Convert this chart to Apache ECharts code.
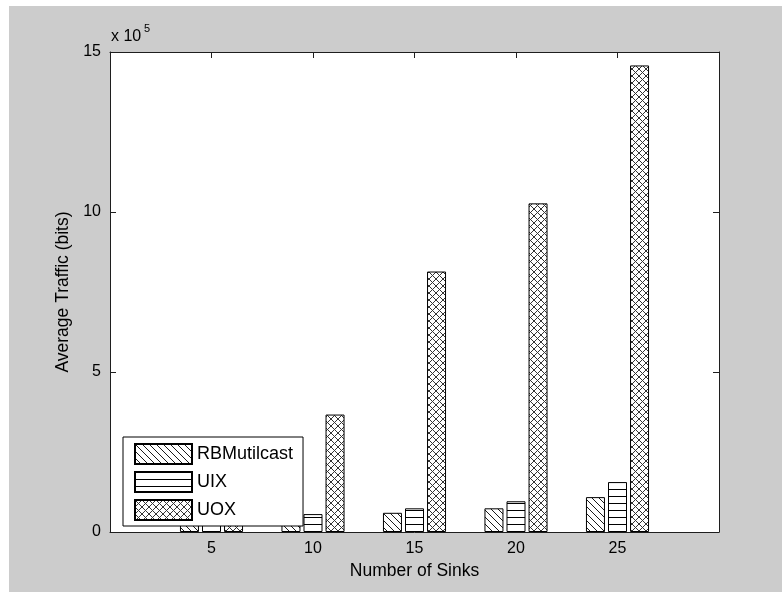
<!DOCTYPE html>
<html>
<head>
<meta charset="utf-8">
<script src="https://cdn.jsdelivr.net/npm/echarts@6/dist/echarts.min.js"></script>
<style>
  html, body { margin: 0; padding: 0; background: #ffffff; }
  #chart { position: absolute; left: 9px; top: 6px; width: 773px; height: 586px; background: #cccccc; }
</style>
</head>
<body>
<div id="chart"></div>
<script>
// Number of sinks on the x axis
const sinks = [5, 10, 15, 20, 25];
// Average traffic, in units of 1e5 bits
const rbMulticast = [0.36, 0.44, 0.60, 0.74, 1.09];
const uix = [0.40, 0.56, 0.74, 0.96, 1.56];
const uox = [1.20, 3.67, 8.14, 10.27, 14.58];
const seriesNames = ['RBMutilcast', 'UIX', 'UOX'];
const yTicks = [0, 5, 10, 15];
const xTicks = [5, 10, 15, 20, 25];

const FONT = '"Liberation Sans", Arial, Helvetica, sans-serif';

// Small tiles used as repeating hatch fills
function makeTile(w, h, pixels, ink) {
  const c = document.createElement('canvas');
  c.width = w; c.height = h;
  const g = c.getContext('2d');
  g.fillStyle = '#ffffff';
  g.fillRect(0, 0, w, h);
  g.fillStyle = ink;
  pixels.forEach(([x, y]) => g.fillRect(x, y, 1, 1));
  return c;
}
function diagonalTile(p) {
  const px = [];
  for (let i = 0; i < p; i++) px.push([i, i]);
  return makeTile(p, p, px, '#1a1a1a');
}
function horizontalTile(p) {
  const px = [];
  for (let i = 0; i < p; i++) px.push([i, 0]);
  return makeTile(p, p, px, '#000000');
}
function crossTile(p) {
  const px = [];
  for (let i = 0; i < p; i++) { px.push([i, i]); px.push([p - 1 - i, i]); }
  return makeTile(p, p, px, '#333333');
}
const fills = [
  { image: diagonalTile(7), repeat: 'repeat' },
  { image: horizontalTile(7), repeat: 'repeat' },
  { image: crossTile(7), repeat: 'repeat' }
];

const values = [rbMulticast, uix, uox];
const series = values.map((vals, k) => ({
  name: seriesNames[k],
  type: 'bar',
  xAxisIndex: 0,
  yAxisIndex: 0,
  barWidth: 19,
  barGap: '16%',
  data: sinks.map((s, i) => [s, vals[i]]),
  itemStyle: { color: fills[k], borderColor: '#000000', borderWidth: 1 },
  emphasis: { disabled: true },
  silent: true
}));

const axisLineStyle = { color: '#1e1e1e', width: 1 };
const frameLine = { show: true, onZero: false, lineStyle: axisLineStyle };
const innerTick = { show: true, inside: true, length: 6, lineStyle: axisLineStyle };

const chart = echarts.init(document.getElementById('chart'), null, { renderer: 'canvas' });
chart.setOption({
  animation: false,
  backgroundColor: '#cccccc',
  textStyle: { fontFamily: FONT, color: '#000000' },
  grid: {
    left: 101, top: 46, right: 63, bottom: 60,
    show: true, backgroundColor: '#ffffff', borderWidth: 0,
    outerBoundsMode: 'none'
  },
  legend: {
    orient: 'vertical',
    left: 114, top: 431,
    padding: [6, 10, 5, 11],
    itemWidth: 57, itemHeight: 20, itemGap: 6,
    icon: 'rect',
    backgroundColor: '#ffffff',
    borderColor: '#000000', borderWidth: 1,
    textStyle: { fontFamily: FONT, fontSize: 18, color: '#000000' },
    selectedMode: false,
    data: seriesNames
  },
  xAxis: [
    {
      type: 'value', position: 'bottom', min: 0, max: 30, interval: 5,
      name: 'Number of Sinks', nameLocation: 'middle', nameGap: 29,
      nameTextStyle: { fontFamily: FONT, fontSize: 17.5, color: '#000000' },
      axisLine: frameLine,
      axisTick: innerTick,
      axisLabel: {
        fontFamily: FONT, fontSize: 16, color: '#000000', margin: 9,
        formatter: v => (xTicks.indexOf(v) >= 0 ? String(v) : '')
      },
      splitLine: { show: false }
    },
    {
      type: 'value', position: 'top', min: 0, max: 30, interval: 5,
      axisLine: frameLine,
      axisTick: innerTick,
      axisLabel: { show: false },
      splitLine: { show: false }
    }
  ],
  yAxis: [
    {
      type: 'value', position: 'left', min: 0, max: 15, interval: 5,
      name: 'Average Traffic (bits)', nameLocation: 'middle', nameGap: 37,
      nameTextStyle: { fontFamily: FONT, fontSize: 17.5, color: '#000000' },
      axisLine: frameLine,
      axisTick: innerTick,
      axisLabel: {
        fontFamily: FONT, fontSize: 16, color: '#000000', margin: 9,
        formatter: v => (yTicks.indexOf(v) >= 0 ? String(v) : '')
      },
      splitLine: { show: false }
    },
    {
      type: 'value', position: 'right', min: 0, max: 15, interval: 5,
      axisLine: frameLine,
      axisTick: innerTick,
      axisLabel: { show: false },
      splitLine: { show: false }
    }
  ],
  graphic: [
    {
      type: 'text', left: 102, top: 23,
      style: { text: 'x 10', font: '16px ' + FONT, fill: '#000000' }
    },
    {
      type: 'text', left: 135, top: 17,
      style: { text: '5', font: '11px ' + FONT, fill: '#000000' }
    }
  ],
  series: series
});
</script>
</body>
</html>
